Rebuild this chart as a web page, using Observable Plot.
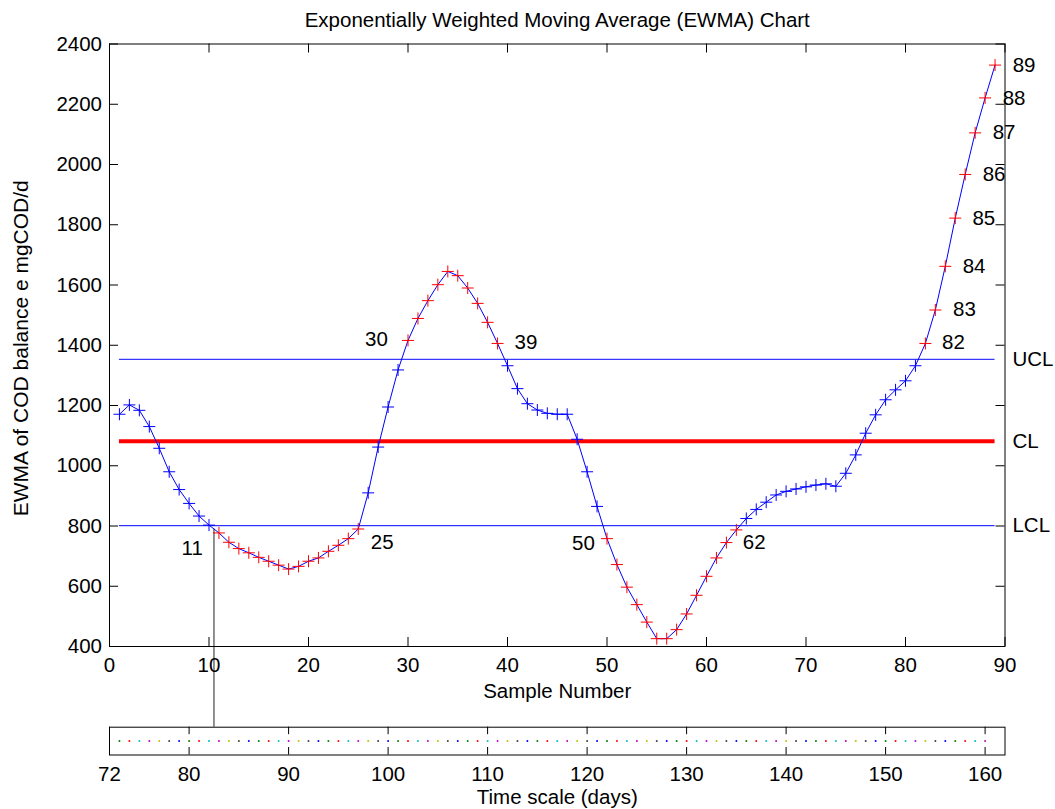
<!DOCTYPE html>
<html>
<head>
<meta charset="utf-8">
<script src="https://cdn.jsdelivr.net/npm/d3@7"></script>
<script src="https://cdn.jsdelivr.net/npm/@observablehq/plot@0.6"></script>
<style>
html, body { margin: 0; padding: 0; background: #fff; overflow: hidden; }
#chart { width: 1055px; height: 809px; position: relative; }
</style>
</head>
<body>
<div id="chart"></div>
<script>
// ---------------- data ----------------
const ewma = [
  1171, 1202, 1184, 1130, 1058, 980, 921, 875, 833, 803,
  777, 746, 725, 711, 696, 683, 670, 657, 666, 683,
  694, 716, 736, 758, 790, 910, 1062, 1195, 1318, 1416,
  1489, 1548, 1601, 1645, 1631, 1590, 1539, 1476, 1406, 1332,
  1256, 1206, 1185, 1174, 1171, 1171, 1088, 980, 865, 758,
  672, 597, 539, 481, 426, 426, 456, 508, 570, 633,
  694, 745, 787, 825, 855, 879, 903, 915, 923, 930,
  936, 940, 932, 975, 1036, 1108, 1169, 1219, 1252, 1282,
  1332, 1406, 1517, 1662, 1822, 1967, 2105, 2221, 2330
];
const ucl = 1353;
const cl = 1081;
const lcl = 801;
const limitNames = ["UCL", "CL", "LCL"];
const limitValues = [ucl, cl, lcl];
const limitLabelX = 90.75;

const xTicks = [0, 10, 20, 30, 40, 50, 60, 70, 80, 90];
const yTicks = [400, 600, 800, 1000, 1200, 1400, 1600, 1800, 2000, 2200, 2400];
const dayOffset = 72;
const dayTickLabels = [72, 80, 90, 100, 110, 120, 130, 140, 150, 160];
const firstDotDay = 73;
const lastDotDay = 160;
const dotColors = ["#0000ff", "#008000", "#ff0000", "#00bfbf", "#bf00bf", "#bfbf00", "#404040"];

const labelText = ["11", "25", "30", "39", "50", "62", "82", "83", "84", "85", "86", "87", "88", "89"];
const labelX = [8.31, 27.41, 26.83, 41.86, 47.64, 64.8, 84.82, 85.93, 86.89, 87.87, 88.9, 89.91, 90.91, 91.92];
const labelY = [725, 745, 1418, 1410, 741, 746, 1409, 1519, 1662, 1821, 1967, 2106, 2220, 2329];

const connectorSample = 10.5;

const titleText = "Exponentially Weighted Moving Average (EWMA) Chart";
const yLabel = "EWMA of COD balance e mgCOD/d";
const xLabel = "Sample Number";
const timeLabel = "Time scale (days)";

// ---------------- build ----------------
const points = ewma.map((v, i) => ({sample: i + 1, value: v, out: v > ucl || v < lcl}));
const connectorValue = (ewma[Math.floor(connectorSample) - 1] + ewma[Math.ceil(connectorSample) - 1]) / 2;
const labels = labelText.map((t, i) => ({t, x: labelX[i], y: labelY[i]}));
const limits = limitNames.map((n, i) => ({n, v: limitValues[i]}));
const dotDays = d3.range(firstDotDay, lastDotDay + 1);

const plusSymbol = {
  draw(ctx, size) {
    const r = Math.sqrt(size / Math.PI);
    ctx.moveTo(-r, 0); ctx.lineTo(r, 0);
    ctx.moveTo(0, -r); ctx.lineTo(0, r);
  }
};

const font = "'Liberation Sans', Arial, Helvetica, sans-serif";
const W = 1055;
const mL = 109, mR = 50.5;
const H1 = 710, mT1 = 43.5, mB1 = 64;
const frameH1 = H1 - mT1 - mB1;
const frameW = W - mL - mR;
const tick = 9;
const fmt = d => String(d);

const main = Plot.plot({
  width: W,
  height: H1,
  marginLeft: mL,
  marginRight: mR,
  marginTop: mT1,
  marginBottom: mB1,
  x: {domain: [0, 90]},
  y: {domain: [400, 2400]},
  style: {fontFamily: font, fontSize: "20.5px", background: "white", color: "black"},
  marks: [
    Plot.ruleY(limits.filter(d => d.n === "UCL"), {y: "v", x1: 1, x2: 89, stroke: "#3a3aff", strokeWidth: 1.2}),
    Plot.ruleY(limits.filter(d => d.n === "LCL"), {y: "v", x1: 1, x2: 89, stroke: "#0000ff", strokeWidth: 1}),
    Plot.ruleY(limits.filter(d => d.n === "CL"), {y: "v", x1: 1, x2: 89, stroke: "#ff0000", strokeWidth: 4}),
    Plot.ruleX([connectorSample], {x: d => d, y1: connectorValue, y2: 400, insetBottom: -mB1, stroke: "#222", strokeWidth: 1}),
    Plot.line(points, {x: "sample", y: "value", stroke: "#0000ff", strokeWidth: 1}),
    Plot.dot(points, {filter: d => !d.out, x: "sample", y: "value", symbol: plusSymbol, r: 6, stroke: "#0000ff", fill: "none", strokeWidth: 1}),
    Plot.dot(points, {filter: d => d.out, x: "sample", y: "value", symbol: plusSymbol, r: 6, stroke: "#ff0000", fill: "none", strokeWidth: 1}),
    // inward ticks on all four sides
    Plot.ruleX(xTicks, {x: d => d, insetTop: frameH1 - tick, stroke: "black"}),
    Plot.ruleX(xTicks, {x: d => d, insetBottom: frameH1 - tick, stroke: "black"}),
    Plot.ruleY(yTicks, {y: d => d, insetRight: frameW - tick, stroke: "black"}),
    Plot.ruleY(yTicks, {y: d => d, insetLeft: frameW - tick, stroke: "black"}),
    Plot.frame({stroke: "black"}),
    Plot.axisX(xTicks, {tickSize: 0, tickPadding: 11, label: null, tickFormat: fmt}),
    Plot.axisY(yTicks, {tickSize: 0, tickPadding: 7.5, label: null, tickFormat: fmt}),
    Plot.text(labels, {x: "x", y: "y", text: "t", fill: "black"}),
    Plot.text(limits, {x: limitLabelX, y: "v", text: "n", textAnchor: "start", fill: "black"}),
    Plot.text([titleText], {frameAnchor: "top", lineAnchor: "middle", textAnchor: "middle", dy: -23.5, fill: "black"}),
    Plot.text([xLabel], {frameAnchor: "bottom", lineAnchor: "middle", textAnchor: "middle", dy: 45, fill: "black"}),
    Plot.text([yLabel], {frameAnchor: "left", lineAnchor: "middle", textAnchor: "middle", rotate: -90, dx: -88, dy: 3, fontSize: 21, fill: "black"})
  ]
});

const H2 = 99, mT2 = 16.7, mB2 = 54.5;
const frameH2 = H2 - mT2 - mB2;
const tick2 = 7.5;

const time = Plot.plot({
  width: W,
  height: H2,
  marginLeft: mL,
  marginRight: mR,
  marginTop: mT2,
  marginBottom: mB2,
  x: {domain: [dayOffset, dayOffset + 90]},
  style: {fontFamily: font, fontSize: "20.5px", background: "transparent", color: "black"},
  marks: [
    Plot.dot(dotDays, {x: d => d, r: 1, fill: d => dotColors[(d - dayOffset) % dotColors.length], stroke: "none"}),
    Plot.ruleX(dayTickLabels, {x: d => d, insetTop: frameH2 - tick2, stroke: "black"}),
    Plot.ruleX(dayTickLabels, {x: d => d, insetBottom: frameH2 - tick2, stroke: "black"}),
    Plot.ruleX([connectorSample + dayOffset], {x: d => d, insetTop: -mT2, insetBottom: frameH2, stroke: "#222", strokeWidth: 1}),
    Plot.frame({stroke: "black"}),
    Plot.axisX(dayTickLabels, {tickSize: 0, tickPadding: 11, label: null, tickFormat: fmt}),
    Plot.text([timeLabel], {frameAnchor: "bottom", lineAnchor: "middle", textAnchor: "middle", dy: 42, fill: "black"})
  ]
});

const el = document.getElementById("chart");
el.appendChild(main);
el.appendChild(time);
</script>
</body>
</html>
